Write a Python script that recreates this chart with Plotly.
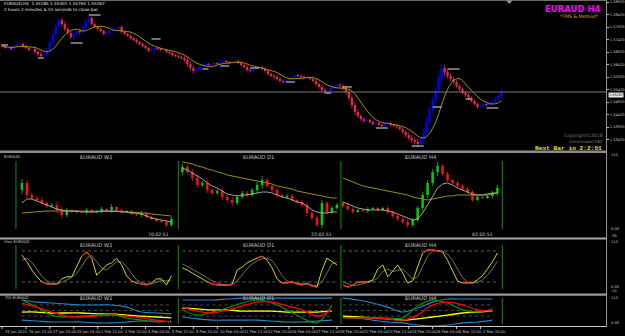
import plotly.graph_objects as go

W, H = 625, 336
PW = 608

def py(y):
    return 1 - y / H

# ---------------- main chart data (EURAUD H4) ----------------
first_open = 1.5720
close = [1.5716, 1.5708, 1.5712, 1.5704, 1.5716, 1.5720, 1.5724, 1.5716, 1.5708, 1.5700,
         1.5704, 1.5692, 1.5684, 1.5676, 1.5680, 1.5700, 1.5732, 1.5764, 1.5796, 1.5820,
         1.5804, 1.5784, 1.5768, 1.5752, 1.5764, 1.5776, 1.5772, 1.5788, 1.5812, 1.5828,
         1.5804, 1.5792, 1.5784, 1.5776, 1.5764, 1.5768, 1.5776, 1.5780, 1.5784, 1.5792,
         1.5772, 1.5764, 1.5756, 1.5748, 1.5740, 1.5732, 1.5724, 1.5716, 1.5708, 1.5696,
         1.5700, 1.5708, 1.5704, 1.5700, 1.5700, 1.5692, 1.5688, 1.5680, 1.5676, 1.5672,
         1.5668, 1.5660, 1.5644, 1.5628, 1.5616, 1.5624, 1.5632, 1.5640, 1.5644, 1.5640,
         1.5644, 1.5648, 1.5644, 1.5652, 1.5656, 1.5652, 1.5648, 1.5652, 1.5656, 1.5648,
         1.5640, 1.5632, 1.5620, 1.5616, 1.5624, 1.5628, 1.5632, 1.5624, 1.5616, 1.5604,
         1.5596, 1.5592, 1.5584, 1.5576, 1.5572, 1.5580, 1.5584, 1.5592, 1.5600, 1.5596,
         1.5592, 1.5588, 1.5588, 1.5584, 1.5576, 1.5564, 1.5552, 1.5540, 1.5532, 1.5536,
         1.5548, 1.5556, 1.5560, 1.5556, 1.5548, 1.5532, 1.5508, 1.5480, 1.5452, 1.5436,
         1.5424, 1.5416, 1.5420, 1.5412, 1.5404, 1.5408, 1.5400, 1.5396, 1.5404, 1.5408,
         1.5400, 1.5396, 1.5392, 1.5384, 1.5372, 1.5360, 1.5348, 1.5340, 1.5332, 1.5324,
         1.5340, 1.5372, 1.5416, 1.5460, 1.5500, 1.5540, 1.5588, 1.5628, 1.5612, 1.5596,
         1.5584, 1.5572, 1.5556, 1.5544, 1.5528, 1.5520, 1.5508, 1.5496, 1.5484, 1.5472,
         1.5476, 1.5484, 1.5480, 1.5488, 1.5492, 1.5504, 1.5516, 1.5532]
bar_index = list(range(len(close)))
wick_pips = [5, 4, 6, 4, 5, 3, 4, 6, 5, 4, 5, 6, 8, 7, 5, 6,
             10, 12, 14, 10, 8, 9, 7, 6, 8, 7, 9, 12, 10, 8, 6, 5,
             5, 6, 4, 5, 6, 8, 7, 5, 6, 5, 4, 6, 5, 7, 5, 6,
             5, 4, 6, 5, 4, 5, 6, 5, 4, 6, 5, 7, 6, 8, 12, 10,
             9, 6, 5, 4, 6, 5, 4, 5, 4, 6, 5, 4, 5, 6, 4, 5,
             6, 5, 7, 6, 5, 4, 6, 5, 7, 6, 5, 8, 6, 5, 6, 5,
             4, 5, 6, 4, 5, 6, 5, 4, 6, 8, 7, 9, 8, 6, 7, 5,
             6, 8, 9, 10, 12, 14, 12, 10, 8, 7, 6, 5, 6, 5, 4, 6,
             5, 4, 6, 5, 7, 6, 8, 9, 10, 12, 10, 14, 12, 15, 16, 14,
             15, 16, 14, 18, 12, 10, 9, 8, 7, 8, 6, 7, 8, 6, 5, 6,
             5, 6, 4, 5, 6, 7, 8, 9]
ma_period = 8

time_labels = ["25 Jan 2021", "26 Jan 12:00", "27 Jan 20:00", "29 Jan 04:00", "1 Feb 12:00",
               "2 Feb 20:00", "4 Feb 04:00", "5 Feb 12:00", "8 Feb 20:00", "10 Feb 04:00",
               "11 Feb 12:00", "12 Feb 20:00", "16 Feb 04:00", "17 Feb 12:00", "18 Feb 20:00",
               "22 Feb 04:00", "23 Feb 12:00", "24 Feb 20:00", "26 Feb 04:00", "1 Mar 12:00",
               "2 Mar 20:00"]
time_label_bars = [0, 8, 16, 24, 32, 40, 48, 56, 64, 72, 80, 88, 96, 104, 112, 120, 128,
                   136, 144, 152, 160]

price_ticks = [1.5892, 1.5842, 1.5792, 1.5742, 1.5692, 1.5642, 1.5592, 1.5542,
               1.5492, 1.5442, 1.5392, 1.5342]
bid_price = 1.55267

level_start = [0, 12, 23, 29, 50, 67, 73, 83, 95, 108, 114, 125, 137, 144, 149, 155, 162]
level_end = [2, 14, 27, 33, 53, 69, 76, 86, 98, 110, 117, 129, 141, 147, 153, 157, 166]
level_price = [1.5720, 1.5668, 1.5728, 1.5840, 1.5744, 1.5624, 1.5636, 1.5628, 1.5572,
               1.5528, 1.5552, 1.5388, 1.5316, 1.5472, 1.5624, 1.5504, 1.5468]

# ---------------- MTF candles window ----------------
w1_open0 = 47
w1_close = [54, 42, 39, 37, 34, 31, 32, 27, 22, 27, 25, 26, 25, 27, 25, 26, 28, 27, 30, 27,
            25, 26, 23, 22, 24, 20, 18, 16, 15, 12, 18]
w1_wick = [4, 3, 2, 2, 2, 2, 2, 3, 3, 2, 1, 1, 1, 2, 1, 1, 2, 1, 3, 1, 1, 1, 1, 1, 2, 1, 1, 1,
           1, 2, 2]
w1_ma_fast = [34, 38, 38, 36, 34, 32, 30, 28, 27, 26, 26, 26, 25, 25, 25, 25, 26, 26, 26, 26,
              25, 25, 24, 24, 23, 21, 19, 18, 17, 16, 15]
w1_ma_slow = [24, 24.5, 25, 25, 25.5, 26, 26, 26, 26, 26, 26, 26, 26, 26, 26, 26, 26, 26, 26,
              26, 25.5, 25, 25, 24.5, 24, 24, 23, 22.5, 22, 21.5, 21]

d1_open0 = 65
d1_close = [70, 65, 59, 52, 54, 47, 44, 46, 40, 37, 34, 40, 44, 42, 47, 52, 57, 51, 47, 42,
            40, 41, 37, 35, 32, 24, 19, 12, 34, 25, 29, 32]
d1_wick = [3, 2, 3, 3, 2, 3, 2, 2, 3, 2, 3, 2, 2, 2, 2, 3, 4, 2, 2, 2, 1, 2, 2, 1, 2, 3, 2, 2,
           3, 2, 2, 2]
d1_ma_fast = [69, 67, 64, 61, 58, 54, 51, 49, 46, 43, 42, 41, 42, 42, 43, 44, 45, 45, 44, 42,
              40, 39, 37, 35, 34, 31, 27, 25, 24, 24, 25, 25]
d1_ma_slow = [75, 74, 73, 71, 70, 68, 67, 65, 64, 62, 61, 60, 59, 58, 57, 56, 55, 54, 53, 51,
              50, 49, 48, 46, 45, 44, 43, 42, 41, 40, 39, 39]

h4_open0 = 34
h4_close = [31, 28, 25, 27, 26, 28, 29, 27, 29, 25, 21, 18, 15, 12, 17, 29, 42, 54, 65, 71,
            63, 57, 54, 51, 48, 45, 37, 40, 39, 41, 44, 49]
h4_wick = [2, 2, 2, 1, 1, 2, 1, 1, 1, 2, 2, 2, 2, 3, 2, 2, 3, 3, 3, 4, 2, 2, 1, 2, 2, 2, 2, 1,
           1, 1, 2, 3]
h4_ma_fast = [35, 33, 31, 29, 28, 27, 27, 27, 27, 26, 25, 23, 21, 19, 17, 18, 24, 32, 41, 49,
              53, 54, 52, 49, 47, 45, 43, 42, 42, 43, 44, 44]
h4_ma_slow = [59, 57, 55, 53, 51, 50, 49, 48, 47, 46, 45, 44, 43, 42, 40, 39, 38, 37, 38, 39,
              40, 41, 41, 42, 42, 42, 42, 42, 42, 42, 43, 44]

# ---------------- Stochastic window ----------------
stoch_levels = [80, 20]
w1_stoch = [72, 59, 43, 30, 20, 16, 16, 16, 26, 30, 30, 51, 70, 78, 66, 33, 43, 53, 57, 66,
            53, 32, 22, 18, 16, 14, 18, 26, 26, 14, 32]
w1_signal = [62, 66, 58, 44, 31, 22, 17, 16, 19, 24, 29, 37, 50, 66, 71, 59, 47, 43, 51, 59,
             59, 50, 36, 24, 19, 16, 16, 19, 23, 22, 24]
d1_stoch = [47, 43, 37, 32, 26, 20, 16, 14, 14, 14, 16, 43, 49, 57, 62, 66, 70, 62, 47, 26,
            18, 18, 20, 16, 14, 18, 12, 10, 43, 66, 59, 53]
d1_signal = [55, 50, 45, 40, 34, 28, 22, 18, 15, 14, 14, 22, 34, 46, 55, 61, 65, 66, 61, 48,
             32, 22, 19, 18, 16, 16, 15, 13, 20, 38, 55, 58]
h4_stoch = [14, 10, 14, 20, 20, 20, 24, 45, 53, 30, 41, 53, 37, 18, 22, 51, 76, 82, 82, 80,
            78, 62, 43, 22, 18, 18, 18, 24, 32, 45, 59, 76]
h4_signal = [20, 16, 13, 14, 17, 19, 21, 28, 40, 45, 40, 42, 45, 36, 25, 30, 50, 70, 80, 81,
             80, 74, 62, 44, 28, 20, 18, 19, 24, 33, 45, 60]

# ---------------- TDI window ----------------
tdi_levels = [68, 50, 32]
w1_tdi_up = [84, 77, 74, 71, 68, 68, 68, 61, 45, 42, 39]
w1_tdi_dn = [19, 16, 13, 13, 13, 10, 10, 13, 16, 16, 13]
w1_tdi_mid = [45, 45, 42, 42, 42, 39, 39, 35, 32, 29, 26]
w1_tdi_slow = [74, 61, 45, 32, 29, 32, 35, 32, 26, 19, 13]
w1_tdi_fast = [84, 61, 35, 29, 32, 35, 39, 26, 19, 13, 16]
d1_tdi_up = [84, 84, 84, 87, 90, 90, 90, 90, 90, 90, 90]
d1_tdi_dn = [29, 23, 19, 19, 19, 19, 16, 13, 13, 16, 19]
d1_tdi_mid = [58, 55, 52, 52, 48, 48, 48, 45, 45, 45, 48]
d1_tdi_slow = [61, 48, 42, 52, 65, 77, 77, 65, 52, 32, 52]
d1_tdi_fast = [52, 35, 45, 58, 74, 84, 74, 52, 26, 10, 68]
h4_tdi_up = [90, 84, 74, 61, 45, 58, 77, 87, 87, 87, 87]
h4_tdi_dn = [29, 26, 19, 13, 10, 3, 0, 3, 10, 13, 19]
h4_tdi_mid = [32, 29, 26, 23, 19, 23, 29, 35, 42, 45, 48]
h4_tdi_slow = [26, 26, 26, 23, 19, 35, 68, 77, 68, 52, 48]
h4_tdi_fast = [26, 26, 26, 26, 26, 65, 84, 74, 52, 45, 55]

tf_names = ["W1", "D1", "H4"]
tf_timers = ["70:02:51", "22:02:51", "02:02:51"]

# ---------------- colours ----------------
BULL = "#0000ff"
BEAR = "#f2234f"
MA_COL = "#a29600"
GRID_TXT = "#c8c8c8"

fig = go.Figure()

opens = [first_open] + close[:-1]
highs = [max(o, c) + w * 0.0001 for o, c, w in zip(opens, close, wick_pips)]
lows = [min(o, c) - w * 0.0001 for o, c, w in zip(opens, close, wick_pips)]


def add_candles(xs, o, h, l, c, up_col, dn_col, width, xa, ya, lw):
    for up, col in ((True, up_col), (False, dn_col)):
        idx = [i for i in range(len(c)) if (c[i] >= o[i]) == up]
        base = [min(o[i], c[i]) for i in idx]
        body = [max(abs(c[i] - o[i]), (h[i] - l[i]) * 0.04) for i in idx]
        fig.add_trace(go.Bar(x=[xs[i] for i in idx], y=body, base=base, width=width,
                             marker=dict(color=col, line=dict(width=0)),
                             xaxis=xa, yaxis=ya, hoverinfo="skip", showlegend=False))
        wx, wy = [], []
        for i in idx:
            wx += [xs[i], xs[i], None]
            wy += [l[i], h[i], None]
        fig.add_trace(go.Scatter(x=wx, y=wy, mode="lines", line=dict(color=col, width=lw),
                                 xaxis=xa, yaxis=ya, hoverinfo="skip", showlegend=False))


add_candles(bar_index, opens, highs, lows, close, BULL, BEAR, 0.75, "x", "y", 0.8)

ma = []
for i in range(len(close)):
    win = close[max(0, i - ma_period + 1):i + 1]
    ma.append(sum(win) / len(win))
fig.add_trace(go.Scatter(x=bar_index, y=ma, mode="lines", line=dict(color=MA_COL, width=1),
                         line_shape="spline", hoverinfo="skip", showlegend=False))

lx, ly = [], []
for s, e, p in zip(level_start, level_end, level_price):
    lx += [s, e, None]
    ly += [p, p, None]
fig.add_trace(go.Scatter(x=lx, y=ly, mode="lines", line=dict(color="#bdbdbd", width=1.2),
                         hoverinfo="skip", showlegend=False))

# ---------- MTF window ----------
tf_x0 = [4.4, 36.6, 68.8]   # slot offsets of the three mini panels (5 px slots)
mtf = [(w1_open0, w1_close, w1_wick, w1_ma_fast, w1_ma_slow),
       (d1_open0, d1_close, d1_wick, d1_ma_fast, d1_ma_slow),
       (h4_open0, h4_close, h4_wick, h4_ma_fast, h4_ma_slow)]
for x0, (o0, c, wk, mf, msl) in zip(tf_x0, mtf):
    xs = [x0 + k for k in range(len(c))]
    o = [o0] + c[:-1]
    hh = [max(a, b) + w for a, b, w in zip(o, c, wk)]
    ll = [min(a, b) - w for a, b, w in zip(o, c, wk)]
    fig.add_trace(go.Scatter(x=xs, y=msl, mode="lines", line=dict(color="#9a9000", width=1),
                             xaxis="x2", yaxis="y2", hoverinfo="skip", showlegend=False))
    add_candles(xs, o, hh, ll, c, "#00d000", "#ff1010", 0.5, "x2", "y2", 0.8)
    fig.add_trace(go.Scatter(x=xs, y=mf, mode="lines", line=dict(color="#b4b4b4", width=0.9),
                             xaxis="x2", yaxis="y2", hoverinfo="skip", showlegend=False))

# ---------- Stochastic window ----------
stoch = [(w1_stoch, w1_signal), (d1_stoch, d1_signal), (h4_stoch, h4_signal)]
for x0, (st, sg) in zip(tf_x0, stoch):
    xs = [x0 + k for k in range(len(st))]
    for lv in stoch_levels:
        fig.add_trace(go.Scatter(x=[xs[0], xs[-1]], y=[lv, lv], mode="lines",
                                 line=dict(color="#7a7a7a", width=0.8, dash="dot"),
                                 xaxis="x2", yaxis="y3", hoverinfo="skip", showlegend=False))
    fig.add_trace(go.Scatter(x=xs, y=sg, mode="lines", line=dict(color="#6e6e6e", width=1),
                             xaxis="x2", yaxis="y3", hoverinfo="skip", showlegend=False))
    fig.add_trace(go.Scatter(x=xs, y=st, mode="lines", line=dict(color="#d8d400", width=1),
                             xaxis="x2", yaxis="y3", hoverinfo="skip", showlegend=False))
    red = [v if (v >= 64 or v <= 20) else None for v in st]
    fig.add_trace(go.Scatter(x=xs, y=red, mode="lines", line=dict(color="#ff2020", width=1),
                             xaxis="x2", yaxis="y3", hoverinfo="skip", showlegend=False))

# ---------- TDI window ----------
tdi = [(w1_tdi_up, w1_tdi_dn, w1_tdi_mid, w1_tdi_slow, w1_tdi_fast),
       (d1_tdi_up, d1_tdi_dn, d1_tdi_mid, d1_tdi_slow, d1_tdi_fast),
       (h4_tdi_up, h4_tdi_dn, h4_tdi_mid, h4_tdi_slow, h4_tdi_fast)]
for x0, (up, dn, mid, slow, fast) in zip(tf_x0, tdi):
    xs = [x0 + 3 * k for k in range(len(up))]
    for lv in tdi_levels:
        fig.add_trace(go.Scatter(x=[xs[0], xs[-1]], y=[lv, lv], mode="lines",
                                 line=dict(color="#6a6a6a", width=0.7, dash="dot"),
                                 xaxis="x2", yaxis="y4", hoverinfo="skip", showlegend=False))
    for ser, col, wdt in ((up, "#1f88c8", 1.1), (dn, "#1f88c8", 1.1), (mid, "#ffff00", 1.3),
                          (fast, "#00a000", 1.1), (slow, "#ff0000", 1.3)):
        fig.add_trace(go.Scatter(x=xs, y=ser, mode="lines", line=dict(color=col, width=wdt),
                                 line_shape="spline", xaxis="x2", yaxis="y4",
                                 hoverinfo="skip", showlegend=False))

# ---------- layout ----------
xd = [0, PW / W]
fig.update_layout(
    width=W, height=H, margin=dict(l=0, r=0, t=0, b=0),
    paper_bgcolor="#000000", plot_bgcolor="#000000", barmode="overlay",
    showlegend=False,
    xaxis=dict(domain=xd, range=[-0.667, -0.667 + PW / 3], visible=False, fixedrange=True),
    yaxis=dict(domain=[py(150), py(0)], range=[1.5900 - 0.0004 * 150, 1.5900], side="right",
               tickvals=price_ticks, ticktext=["%.5f" % v for v in price_ticks],
               ticks="outside", ticklen=2, tickcolor="#bbbbbb", showgrid=False,
               zeroline=False, showline=False, tickfont=dict(size=3.6, color=GRID_TXT,
                                                             family="DejaVu Sans")),
    xaxis2=dict(domain=xd, range=[0, PW / 5], visible=False, anchor="y2"),
    yaxis2=dict(domain=[py(237), py(154)], range=[0, 83], visible=False, anchor="x2"),
    yaxis3=dict(domain=[py(293), py(240)], range=[-1.35, 101.15], visible=False, anchor="x2"),
    yaxis4=dict(domain=[py(326), py(296)], range=[0, 96.8], visible=False, anchor="x2"),
)

shapes = []
def hline(y, x0=0, x1=PW, col="#808080", w=1):
    shapes.append(dict(type="line", xref="paper", yref="paper", x0=x0 / W, x1=x1 / W,
                       y0=py(y), y1=py(y), line=dict(color=col, width=w)))
def vline(x, y0, y1, col="#808080", w=1):
    shapes.append(dict(type="line", xref="paper", yref="paper", x0=x / W, x1=x / W,
                       y0=py(y0), y1=py(y1), line=dict(color=col, width=w)))

hline(0.5, col="#6a6a6a")
hline(151.8, col="#8c8c8c", w=2.6)
hline(238.5, col="#a8a8a8", w=2.2)
hline(294.6, col="#9a9a9a", w=2.2)
hline(326.5, col="#c8c8c8", w=1)
vline(PW + 0.5, 0, 327, col="#9a9a9a", w=1)
for gx in (16, 179, 342, 504):
    vline(gx, 161, 229, col="#0b7a0b", w=1.2)
    vline(gx, 245, 289, col="#0b7a0b", w=1.2)
for gx in (179, 342, 504):
    vline(gx, 298, 324, col="#0b7a0b", w=1.2)
shapes.append(dict(type="line", xref="paper", yref="y", x0=0, x1=PW / W, y0=close[-1],
                   y1=close[-1], line=dict(color="#7a7a7a", width=1)))
for b in time_label_bars:
    shapes.append(dict(type="line", xref="x", yref="paper", x0=b, x1=b, y0=py(326.5),
                       y1=py(329), line=dict(color="#c8c8c8", width=1)))
shapes.append(dict(type="path", xref="paper", yref="paper",
                   path="M %f %f L %f %f L %f %f Z" % (508 / W, py(0.5), 514 / W, py(0.5),
                                                     511 / W, py(4)),
                   fillcolor="#9a9a9a", line=dict(width=0)))
fig.update_layout(shapes=shapes)

ann = []
def text(x, y, s, size, col=GRID_TXT, anchor="left", fam="DejaVu Sans", bold=False):
    ann.append(dict(x=x / W, y=py(y), xref="paper", yref="paper",
                    text=("<b>%s</b>" % s) if bold else s, showarrow=False,
                    xanchor=anchor, yanchor="middle",
                    font=dict(size=size, color=col, family=fam)))

text(2, 3.5, "EURAUD,H4  1.55185 1.55401 1.54764 1.55267", 4.2, "#e0e0e0")
text(2, 9.5, "2 hours 2 minutes & 51 seconds to close bar", 4.2, "#e0e0e0")
text(605, 9, "EURAUD H4", 8.5, "#ff00ff", anchor="right", bold=True)
text(603, 16, "*TMS & Method*", 4.6, "#e0b000", anchor="right")
text(607, 135.5, "Copyright©2018", 4.6, "#7a7a7a", anchor="right")
text(607, 141, "simonrowe2183", 4.2, "#7a7a7a", anchor="right")
text(606, 148, "Next Bar in 2:2:51", 6.2, "#e6e600", anchor="right",
     fam="Liberation Mono", bold=True)
ann.append(dict(x=(PW + 1.5) / W, y=py(94.5), xref="paper", yref="paper",
                text="%.5f" % bid_price,
                showarrow=False, xanchor="left", yanchor="middle", bgcolor="#e8e8e8",
                borderpad=0, font=dict(size=3.4, color="#000000", family="DejaVu Sans")))

text(2, 156, "EURAUD", 3.8, "#d0d0d0")
text(2, 241.5, "Stoc EURAUD", 3.8, "#d0d0d0")
text(2, 297.5, "TDI EURAUD", 3.8, "#d0d0d0")
centers = [97, 259, 422]
for cx, nm in zip(centers, tf_names):
    for yy in (157, 245, 298):
        text(cx, yy, "EURAUD " + nm, 5.3, "#c8c8c8", anchor="center")
for tx, tm in zip([172, 335, 497], tf_timers):
    text(tx, 234.5, tm, 4.6, "#c8c8c8", anchor="right")

for b, lab in zip(time_label_bars, time_labels):
    ann.append(dict(x=b + 0.3, y=py(331.5), xref="x", yref="paper", text=lab,
                    showarrow=False, xanchor="left", yanchor="middle",
                    font=dict(size=3.7, color=GRID_TXT, family="DejaVu Sans")))

for yy, s in ((155, "115"), (229, "0.00"), (236, "-35"), (242, "115"), (287, "0.00"),
              (291, "-15"), (298, "115"), (323, "0.00")):
    text(611, yy, s, 3.6, GRID_TXT)

fig.update_layout(annotations=ann)
fig.write_html("out.html")
